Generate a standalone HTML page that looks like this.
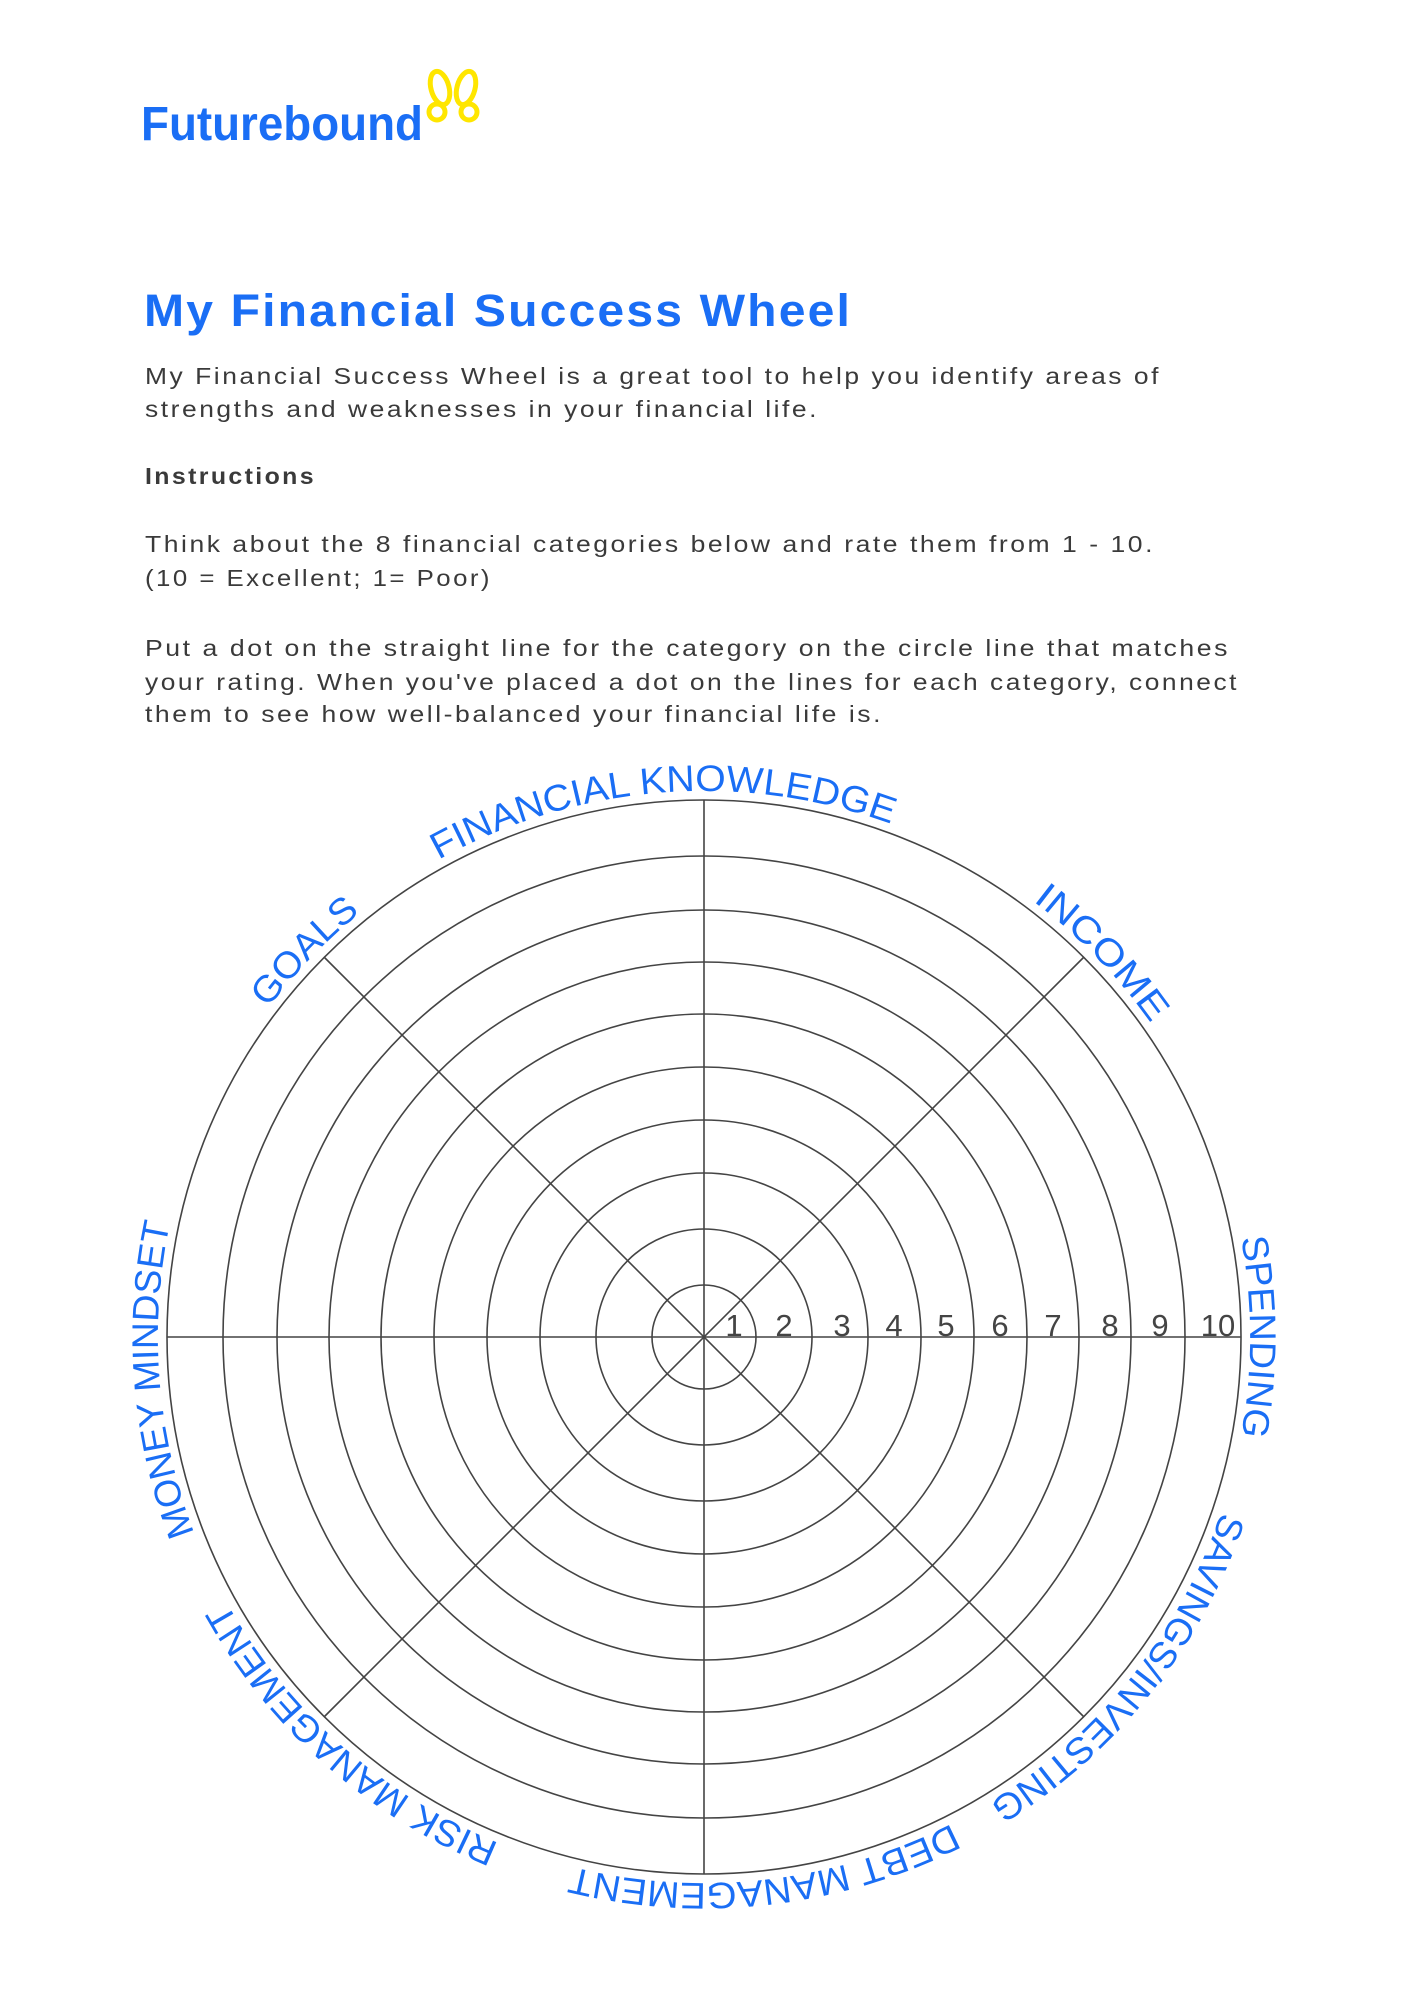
<!DOCTYPE html>
<html><head><meta charset="utf-8"><style>
html,body{margin:0;padding:0;background:#fff;}
svg{display:block;}
.b{font-family:"Liberation Sans",sans-serif;font-size:23px;fill:#3a3a3a;letter-spacing:2.2px;}
.lab{font-family:"Liberation Sans",sans-serif;font-size:37px;fill:#1a6ef5;}
.num{font-family:"Liberation Sans",sans-serif;font-size:31px;fill:#444;text-anchor:middle;}
</style></head><body>
<svg width="1414" height="2000" viewBox="0 0 1414 2000" xmlns="http://www.w3.org/2000/svg">
<text x="141" y="140" font-family="Liberation Sans, sans-serif" font-weight="bold" font-size="48" fill="#1a6ef5" textLength="282" lengthAdjust="spacingAndGlyphs">Futurebound</text>
<g fill="none" stroke="#ffe600" stroke-width="5">
<ellipse cx="440" cy="88" rx="9" ry="17" transform="rotate(-15 440 88)"/>
<ellipse cx="466" cy="88" rx="9" ry="17" transform="rotate(15 466 88)"/>
<ellipse cx="437" cy="112" rx="8" ry="8"/>
<ellipse cx="469" cy="112" rx="8" ry="8"/>
</g>
<text x="144" y="326" font-family="Liberation Sans, sans-serif" font-weight="bold" font-size="45" fill="#1a6ef5" letter-spacing="2" textLength="708" lengthAdjust="spacingAndGlyphs">My Financial Success Wheel</text>
<text class="b" x="145" y="384" textLength="1016" lengthAdjust="spacingAndGlyphs">My Financial Success Wheel is a great tool to help you identify areas of</text>
<text class="b" x="145" y="417" textLength="674" lengthAdjust="spacingAndGlyphs">strengths and weaknesses in your financial life.</text>
<text class="b" x="145" y="484" font-weight="bold" textLength="171" lengthAdjust="spacingAndGlyphs">Instructions</text>
<text class="b" x="145" y="552" textLength="1010" lengthAdjust="spacingAndGlyphs">Think about the 8 financial categories below and rate them from 1 - 10.</text>
<text class="b" x="145" y="586" textLength="347" lengthAdjust="spacingAndGlyphs">(10 = Excellent; 1= Poor)</text>
<text class="b" x="145" y="656" textLength="1085" lengthAdjust="spacingAndGlyphs">Put a dot on the straight line for the category on the circle line that matches</text>
<text class="b" x="145" y="690" textLength="1094" lengthAdjust="spacingAndGlyphs">your rating. When you've placed a dot on the lines for each category, connect</text>
<text class="b" x="145" y="722" textLength="738" lengthAdjust="spacingAndGlyphs">them to see how well-balanced your financial life is.</text>
<g fill="none" stroke="#444" stroke-width="1.6">
<circle cx="704" cy="1337" r="52"/><circle cx="704" cy="1337" r="108"/><circle cx="704" cy="1337" r="164"/><circle cx="704" cy="1337" r="217"/><circle cx="704" cy="1337" r="270"/><circle cx="704" cy="1337" r="323"/><circle cx="704" cy="1337" r="375"/><circle cx="704" cy="1337" r="427"/><circle cx="704" cy="1337" r="481"/><circle cx="704" cy="1337" r="537"/>
<line x1="167" y1="1337" x2="1241" y2="1337"/>
<line x1="704" y1="800" x2="704" y2="1874"/>
<line x1="324" y1="957" x2="1084" y2="1717"/>
<line x1="324" y1="1717" x2="1084" y2="957"/>
</g>
<g class="num">
<text x="734" y="1336">1</text><text x="784" y="1336">2</text><text x="842" y="1336">3</text><text x="894" y="1336">4</text><text x="946" y="1336">5</text><text x="1000" y="1336">6</text><text x="1053" y="1336">7</text><text x="1110" y="1336">8</text><text x="1160" y="1336">9</text><text x="1218" y="1336">10</text>
</g>
<defs>
<path id="ring" d="M 398.7 884.3 A 546 546 0 1 1 1009.3 1789.7 A 546 546 0 1 1 398.7 884.3"/>
</defs>
<g class="lab">
<text text-anchor="middle"><textPath href="#ring" startOffset="8.19%" textLength="468" lengthAdjust="spacingAndGlyphs">FINANCIAL KNOWLEDGE</textPath></text>
<text text-anchor="middle"><textPath href="#ring" startOffset="22.22%" textLength="171" lengthAdjust="spacingAndGlyphs">INCOME</textPath></text>
<text text-anchor="middle"><textPath href="#ring" startOffset="34.44%" textLength="199" lengthAdjust="spacingAndGlyphs">SPENDING</textPath></text>
<text text-anchor="middle"><textPath href="#ring" startOffset="45.17%" textLength="380" lengthAdjust="spacingAndGlyphs">SAVINGS/INVESTING</textPath></text>
<text text-anchor="middle"><textPath href="#ring" startOffset="57.64%" textLength="390" lengthAdjust="spacingAndGlyphs">DEBT MANAGEMENT</textPath></text>
<text text-anchor="middle"><textPath href="#ring" startOffset="70.97%" textLength="371" lengthAdjust="spacingAndGlyphs">RISK MANAGEMENT</textPath></text>
<text text-anchor="middle"><textPath href="#ring" startOffset="83.19%" textLength="315" lengthAdjust="spacingAndGlyphs">MONEY MINDSET</textPath></text>
<text text-anchor="middle"><textPath href="#ring" startOffset="96.67%" textLength="133" lengthAdjust="spacingAndGlyphs">GOALS</textPath></text>
</g>
</svg>
</body></html>
